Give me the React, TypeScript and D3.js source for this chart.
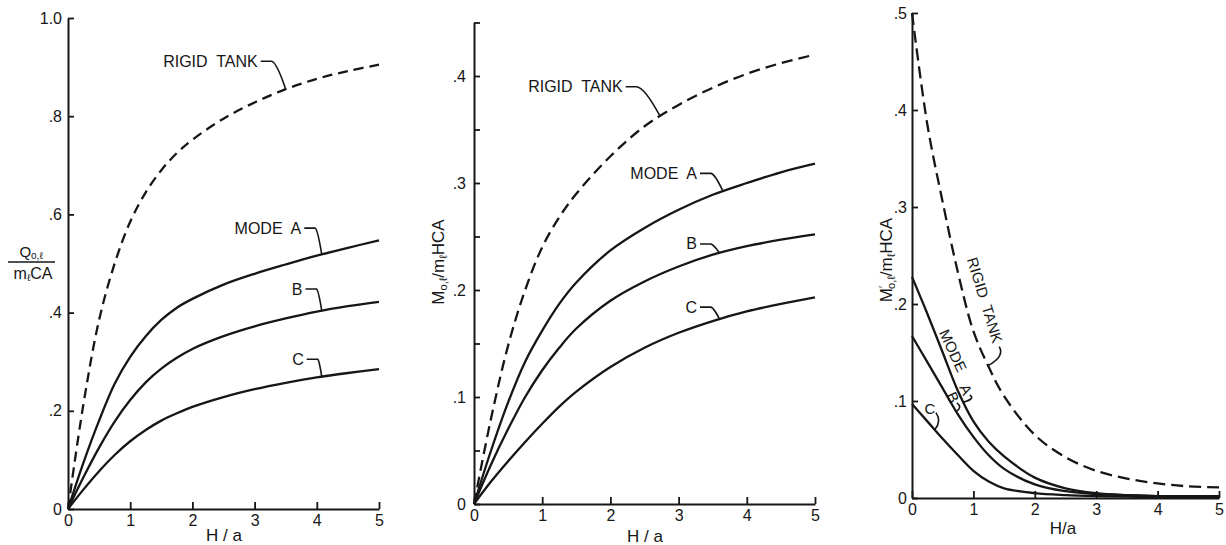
import React, { useEffect, useRef } from "react";
import * as d3 from "d3";

const W = 1226;
const H = 545;
const FONT = "'Liberation Sans', Arial, Helvetica, sans-serif";
const INK = "#161616";

// ---- panel 1: Q / m CA vs H/a
const ha1 = [0, 0.25, 0.5, 0.75, 1, 1.25, 1.5, 1.75, 2, 2.5, 3, 3.5, 4, 4.5, 5];
const rigid1 = [0, 0.215, 0.385, 0.5, 0.585, 0.645, 0.69, 0.725, 0.752, 0.795, 0.828, 0.855, 0.876, 0.892, 0.905];
const modeA1 = [0, 0.095, 0.18, 0.255, 0.31, 0.352, 0.385, 0.41, 0.428, 0.457, 0.479, 0.498, 0.516, 0.532, 0.547];
const modeB1 = [0, 0.065, 0.125, 0.178, 0.222, 0.258, 0.286, 0.308, 0.326, 0.352, 0.372, 0.388, 0.402, 0.413, 0.422];
const modeC1 = [0, 0.04, 0.077, 0.11, 0.138, 0.161, 0.18, 0.195, 0.208, 0.228, 0.244, 0.257, 0.268, 0.277, 0.285];
const yTicks1 = [0, 0.2, 0.4, 0.6, 0.8, 1.0];

// ---- panel 2: M / m HCA vs H/a
const ha2 = [0, 0.25, 0.5, 0.75, 1, 1.25, 1.5, 2, 2.5, 3, 3.5, 4, 4.5, 5];
const rigid2 = [0, 0.08, 0.148, 0.2, 0.24, 0.268, 0.29, 0.325, 0.353, 0.373, 0.389, 0.402, 0.412, 0.42];
const modeA2 = [0, 0.05, 0.095, 0.133, 0.162, 0.187, 0.207, 0.237, 0.258, 0.275, 0.289, 0.3, 0.31, 0.318];
const modeB2 = [0, 0.037, 0.07, 0.1, 0.125, 0.146, 0.164, 0.19, 0.208, 0.222, 0.233, 0.241, 0.247, 0.252];
const modeC2 = [0, 0.021, 0.04, 0.058, 0.075, 0.091, 0.105, 0.128, 0.146, 0.16, 0.171, 0.18, 0.187, 0.193];
const yTicks2 = [0, 0.05, 0.1, 0.15, 0.2, 0.25, 0.3, 0.35, 0.4, 0.45];
const yLabels2 = [0, 0.1, 0.2, 0.3, 0.4];

// ---- panel 3: M' / m HCA vs H/a
const ha3 = [0, 0.25, 0.5, 0.75, 1, 1.25, 1.5, 2, 2.5, 3, 3.5, 4, 4.5, 5];
const rigid3 = [0.5, 0.385, 0.305, 0.232, 0.172, 0.135, 0.105, 0.065, 0.042, 0.028, 0.02, 0.015, 0.012, 0.011];
const modeA3 = [0.228, 0.19, 0.15, 0.11, 0.079, 0.058, 0.043, 0.021, 0.01, 0.005, 0.003, 0.002, 0.002, 0.002];
const modeB3 = [0.167, 0.14, 0.113, 0.086, 0.063, 0.044, 0.03, 0.014, 0.007, 0.004, 0.003, 0.002, 0.002, 0.002];
const modeC3 = [0.097, 0.079, 0.061, 0.044, 0.028, 0.017, 0.01, 0.005, 0.003, 0.002, 0.0015, 0.001, 0.001, 0.001];
const yTicks3 = [0, 0.1, 0.2, 0.3, 0.4, 0.5];

const xTicks = [0, 1, 2, 3, 4, 5];

const fmtY = (d) => (d === 0 ? "0" : d === 1 ? "1.0" : d3.format(".1f")(d).replace(/^0/, ""));

// label: text end / centre in data coords, leader to a point on a curve
const panels = [
  {
    x0: 68, x1: 379, y0: 509, y1: 18, yMax: 1, ha: ha1, yTicks: yTicks1, yLabels: yTicks1, pad: 6,
    dash: "10 6", xLab: [224, 541], xText: "H / a", lf: 16,
    series: [rigid1, modeA1, modeB1, modeC1],
    labels: [
      { text: "RIGID  TANK", x: 3.05, y: 0.912, s: 0, at: 3.5, kind: "bent" },
      { text: "MODE  A", x: 3.75, y: 0.572, s: 1, at: 4.08, kind: "bent" },
      { text: "B", x: 3.77, y: 0.448, s: 2, at: 4.08, kind: "bent" },
      { text: "C", x: 3.79, y: 0.305, s: 3, at: 4.08, kind: "bent" },
    ],
  },
  {
    x0: 474, x1: 815, y0: 504, y1: 22.5, yMax: 0.45, ha: ha2, yTicks: yTicks2, yLabels: yLabels2, pad: 8,
    dash: "11 6", xLab: [645, 542], xText: "H / a", lf: 16,
    series: [rigid2, modeA2, modeB2, modeC2],
    labels: [
      { text: "RIGID  TANK", x: 2.18, y: 0.39, s: 0, at: 2.73, kind: "bent" },
      { text: "MODE  A", x: 3.27, y: 0.309, s: 1, at: 3.65, kind: "bent" },
      { text: "B", x: 3.27, y: 0.243, s: 2, at: 3.6, kind: "bent" },
      { text: "C", x: 3.27, y: 0.184, s: 3, at: 3.6, kind: "bent" },
    ],
  },
  {
    x0: 912, x1: 1219, y0: 498, y1: 13, yMax: 0.5, ha: ha3, yTicks: yTicks3, yLabels: yTicks3, pad: 5,
    dash: "12 6", xLab: [1063, 534], xText: "H/a", lf: 15,
    series: [rigid3, modeA3, modeB3, modeC3],
    labels: [
      { text: "RIGID  TANK", x: 1.19, y: 0.204, rot: 73, s: 0, at: 1.24, sx: 1.42, sy: 0.156, kind: "hook" },
      { text: "MODE", x: 0.67, y: 0.152, rot: 65 },
      { text: "A", x: 0.88, y: 0.112, rot: 65, s: 1, at: 0.84, sx: 0.94, sy: 0.106, kind: "hook" },
      { text: "B", x: 0.67, y: 0.104, rot: 65, s: 2, at: 0.72, sx: 0.73, sy: 0.098, kind: "hook" },
      { text: "C", x: 0.29, y: 0.092, rot: 0, s: 3, at: 0.37, sx: 0.39, sy: 0.088, kind: "hook" },
    ],
  },
];

function Panel({ cfg }) {
  const gx = useRef(null);
  const gy = useRef(null);
  const xS = d3.scaleLinear().domain([0, 5]).range([cfg.x0, cfg.x1]);
  const yS = d3.scaleLinear().domain([0, cfg.yMax]).range([cfg.y0, cfg.y1]);

  useEffect(() => {
    const style = (g) => {
      g.attr("font-family", FONT).attr("font-size", 16);
      g.select(".domain").attr("stroke", INK).attr("stroke-width", 2);
      g.selectAll(".tick line").attr("stroke", INK).attr("stroke-width", 1.8);
      g.selectAll(".tick text").attr("fill", INK);
    };
    const ax = d3.axisBottom(xS).tickValues(xTicks).tickSizeInner(-7).tickSizeOuter(0)
      .tickPadding(6).tickFormat(d3.format("d"));
    d3.select(gx.current).call(ax).call(style);
    const ay = d3.axisLeft(yS).tickValues(cfg.yTicks).tickSizeInner(-6).tickSizeOuter(0)
      .tickPadding(cfg.pad).tickFormat((d) => (cfg.yLabels.some((v) => Math.abs(v - d) < 1e-9) ? fmtY(d) : ""));
    d3.select(gy.current).call(ay).call(style);
  }, []);

  const line = (vals) =>
    d3.line().x((d, i) => xS(cfg.ha[i])).y((d) => yS(d)).curve(d3.curveCatmullRom.alpha(0.5))(vals);
  const on = (s, x) => d3.scaleLinear().domain(cfg.ha).range(cfg.series[s])(x);

  return (
    <g>
      {cfg.series.map((vals, i) => (
        <path key={i} d={line(vals)} fill="none" stroke={INK} strokeWidth={2.3}
          strokeDasharray={i === 0 ? cfg.dash : null} strokeLinecap="butt" />
      ))}
      <g ref={gx} transform={`translate(0,${cfg.y0})`} />
      <g ref={gy} transform={`translate(${cfg.x0},0)`} />
      {cfg.labels.map((l, i) => {
        const px = xS(l.x);
        const py = yS(l.y);
        let leader = null;
        if (l.kind === "bent") {
          const sx = px + 3, sy = py;
          const mx = sx + 11;
          const ex = xS(l.at), ey = yS(on(l.s, l.at));
          const d = `M${sx},${sy}L${mx},${sy}Q${mx + (ex - mx) * 0.35},${sy + 1} ${ex},${ey}`;
          leader = <path d={d} fill="none" stroke={INK} strokeWidth={1.6} />;
        } else if (l.kind === "hook") {
          const sx = xS(l.sx), sy = yS(l.sy);
          const ex = xS(l.at), ey = yS(on(l.s, l.at));
          const d = `M${sx},${sy}Q${Math.max(sx, ex) + 6},${(sy + ey) / 2} ${ex},${ey}`;
          leader = <path d={d} fill="none" stroke={INK} strokeWidth={1.6} />;
        }
        const rotated = l.rot !== undefined;
        return (
          <g key={i}>
            <text
              transform={rotated ? `translate(${px},${py}) rotate(${l.rot})` : null}
              x={rotated ? 0 : px}
              y={rotated ? 0 : py}
              textAnchor={rotated ? "middle" : "end"}
              dominantBaseline="central"
              fontFamily={FONT}
              fontSize={cfg.lf}
              fill={INK}
              style={{ whiteSpace: "pre" }}
            >
              {l.text}
            </text>
            {leader}
          </g>
        );
      })}
      <text x={cfg.xLab[0]} y={cfg.xLab[1]} textAnchor="middle" fontFamily={FONT} fontSize={17}
        fill={INK} style={{ whiteSpace: "pre" }}>
        {cfg.xText}
      </text>
    </g>
  );
}

export default function App() {
  return (
    <svg width={W} height={H} style={{ position: "absolute", left: 0, top: 0, background: "#fff" }}>
      <rect width={W} height={H} fill="#fff" />
      {panels.map((p, i) => (
        <Panel key={i} cfg={p} />
      ))}
      {/* panel 1 y title as a fraction */}
      <text x={31} y={257} textAnchor="middle" fontFamily={FONT} fontSize={15} fill={INK}>
        Q<tspan fontSize={10} dy={2}>o,ℓ</tspan>
      </text>
      <line x1={8} x2={55} y1={262} y2={262} stroke={INK} strokeWidth={1.4} />
      <text x={33} y={279} textAnchor="middle" fontFamily={FONT} fontSize={16} fill={INK}>
        m<tspan fontSize={10} dy={2}>ℓ</tspan>
        <tspan dy={-2}>CA</tspan>
      </text>
      {/* panel 2 y title */}
      <text transform="translate(444,262) rotate(-90)" textAnchor="middle" fontFamily={FONT}
        fontSize={17} fill={INK}>
        M<tspan fontSize={11} dy={3}>o,ℓ</tspan>
        <tspan dy={-3}>/m</tspan>
        <tspan fontSize={11} dy={3}>ℓ</tspan>
        <tspan dy={-3}>HCA</tspan>
      </text>
      {/* panel 3 y title */}
      <text transform="translate(892,260) rotate(-90)" textAnchor="middle" fontFamily={FONT}
        fontSize={17} fill={INK}>
        M<tspan fontSize={11} dy={-5}>′</tspan>
        <tspan fontSize={11} dx={-3} dy={8}>o,ℓ</tspan>
        <tspan dy={-3}>/m</tspan>
        <tspan fontSize={11} dy={3}>ℓ</tspan>
        <tspan dy={-3}>HCA</tspan>
      </text>
    </svg>
  );
}
